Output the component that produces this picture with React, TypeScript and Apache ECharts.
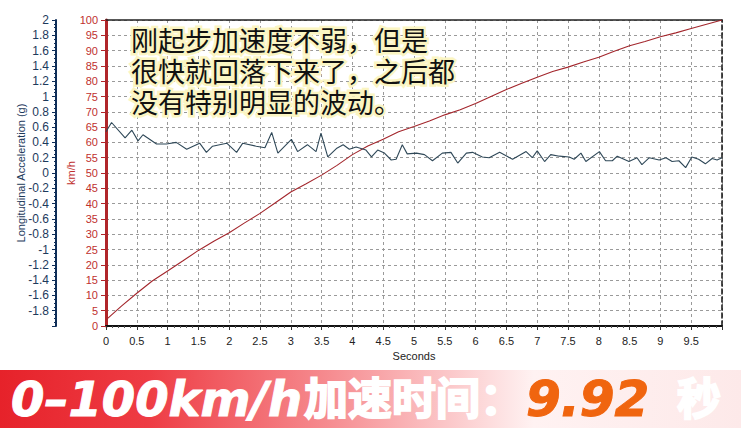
import React, { useEffect, useRef } from "react";
import * as echarts from "echarts";

// Speed curve (km/h) vs time (s)
const speedTimes = [0, 0.25, 0.5, 0.75, 1.0, 1.25, 1.5, 1.75, 2.0, 2.25, 2.5, 2.75, 3.0, 3.25, 3.5, 3.75, 4.0, 4.25, 4.5, 4.75, 5.0, 5.25, 5.5, 5.75, 6.0, 6.25, 6.5, 6.75, 7.0, 7.25, 7.5, 7.75, 8.0, 8.25, 8.5, 8.75, 9.0, 9.25, 9.5, 9.75, 10.0];
const speedValues = [2, 6.5, 10.7, 14.7, 18, 21.3, 24.7, 27.7, 30.5, 33.7, 36.8, 40.3, 43.8, 46.5, 49.3, 52.5, 56, 58.8, 61, 63.5, 65.2, 67, 69, 70.7, 72.7, 75, 77.3, 79.3, 81.3, 83.2, 84.6, 86.3, 87.8, 89.8, 91.6, 93, 94.5, 95.8, 97.2, 98.6, 100];

// Longitudinal acceleration (g) vs time (s)
const accelTimes = [0.0, 0.09, 0.31, 0.42, 0.52, 0.6, 0.82, 0.98, 1.14, 1.31, 1.52, 1.63, 1.73, 1.96, 2.12, 2.22, 2.44, 2.58, 2.69, 2.79, 3.01, 3.11, 3.27, 3.41, 3.49, 3.6, 3.74, 3.85, 3.95, 4.06, 4.22, 4.31, 4.41, 4.52, 4.63, 4.71, 4.81, 4.89, 5.04, 5.17, 5.3, 5.46, 5.6, 5.71, 5.85, 5.95, 6.11, 6.22, 6.39, 6.6, 6.82, 6.92, 7.0, 7.12, 7.22, 7.36, 7.52, 7.6, 7.71, 7.79, 8.01, 8.11, 8.22, 8.3, 8.49, 8.62, 8.7, 8.82, 8.98, 9.09, 9.19, 9.3, 9.41, 9.51, 9.62, 9.73, 9.84, 9.92, 10.0];
const accelValues = [0.54, 0.66, 0.46, 0.56, 0.42, 0.5, 0.38, 0.38, 0.4, 0.31, 0.39, 0.27, 0.35, 0.39, 0.27, 0.39, 0.35, 0.33, 0.53, 0.26, 0.44, 0.28, 0.37, 0.28, 0.52, 0.21, 0.32, 0.37, 0.31, 0.34, 0.3, 0.21, 0.3, 0.26, 0.17, 0.18, 0.37, 0.25, 0.26, 0.24, 0.16, 0.26, 0.27, 0.13, 0.26, 0.27, 0.21, 0.2, 0.27, 0.18, 0.28, 0.2, 0.29, 0.15, 0.24, 0.22, 0.21, 0.18, 0.26, 0.15, 0.28, 0.16, 0.16, 0.22, 0.15, 0.2, 0.11, 0.2, 0.17, 0.2, 0.15, 0.16, 0.07, 0.21, 0.18, 0.12, 0.19, 0.17, 0.2];

const noteLines = ["刚起步加速度不弱，但是", "很快就回落下来了，之后都", "没有特别明显的波动。"];
const bannerParts = ["0–100km/h", "加速时间：", "9.92", "秒"];

const fmt1 = (v: number) => String(parseFloat(v.toFixed(1)));

export default function App() {
  const ref = useRef<HTMLDivElement>(null);
  useEffect(() => {
    if (!ref.current) return;
    const chart = echarts.init(ref.current, null, { renderer: "svg" });
    const gridColor = "#9a9a9a";
    const whiteShadow = {
      shadowColor: "rgba(0,0,0,0.65)",
      shadowBlur: 4,
      shadowOffsetX: 2,
      shadowOffsetY: 2,
    };
    const option: any = {
      animation: false,
      backgroundColor: "#ffffff",
      grid: { left: 106, right: 19, top: 20, bottom: 102, containLabel: false },
      xAxis: [
        {
          type: "value",
          min: 0,
          max: 10,
          interval: 0.5,
          position: "bottom",
          name: "Seconds",
          nameLocation: "middle",
          nameGap: 24,
          nameMoveOverlap: false,
          nameTextStyle: { color: "#222", fontSize: 11, fontFamily: "Liberation Sans" },
          axisLine: { show: true, onZero: false, lineStyle: { color: "#111", width: 2 } },
          axisTick: { show: true, length: 4, lineStyle: { color: "#333" } },
          minorTick: { show: true, splitNumber: 5, length: 2, lineStyle: { color: "#555" } },
          axisLabel: { color: "#222", fontSize: 11, fontFamily: "Liberation Sans", margin: 9, showMaxLabel: false, formatter: fmt1 },
          splitLine: { show: true, lineStyle: { color: gridColor, type: [3, 3], width: 1 } },
        },
        {
          type: "value",
          min: 0,
          max: 10,
          position: "top",
          axisLine: { show: true, onZero: false, lineStyle: { color: "#222", width: 1.5 } },
          axisTick: { show: false },
          axisLabel: { show: false },
          splitLine: { show: false },
        },
      ],
      yAxis: [
        {
          type: "value",
          min: -2,
          max: 2,
          interval: 0.2,
          position: "left",
          offset: 50,
          name: "Longitudinal Acceleration (g)",
          nameLocation: "middle",
          nameRotate: 90,
          nameGap: 30,
          nameMoveOverlap: false,
          nameTextStyle: { color: "#1d3a5c", fontSize: 11, fontFamily: "Liberation Sans" },
          axisLine: { show: true, onZero: false, lineStyle: { color: "#0f2e58", width: 2 } },
          axisTick: { show: true, length: 4, lineStyle: { color: "#0f2e58" } },
          minorTick: { show: true, splitNumber: 4, length: 2, lineStyle: { color: "#0f2e58" } },
          axisLabel: { color: "#1d3a5c", fontSize: 12, fontFamily: "Liberation Sans", margin: 7, showMinLabel: false, formatter: fmt1 },
          splitLine: { show: false },
        },
        {
          type: "value",
          min: 0,
          max: 100,
          interval: 5,
          position: "left",
          offset: 0,
          name: "km/h",
          nameLocation: "middle",
          nameRotate: 90,
          nameGap: 30,
          nameMoveOverlap: false,
          nameTextStyle: { color: "#c0302e", fontSize: 11, fontFamily: "Liberation Sans" },
          axisLine: { show: true, onZero: false, lineStyle: { color: "#b0262a", width: 3 } },
          axisTick: { show: true, length: 5, lineStyle: { color: "#b0262a" } },
          axisLabel: { color: "#c0302e", fontSize: 11, fontFamily: "Liberation Sans", margin: 8 },
          splitLine: { show: true, lineStyle: { color: gridColor, type: [3, 3], width: 1 } },
        },
        {
          type: "value",
          min: 0,
          max: 100,
          position: "right",
          axisLine: { show: true, onZero: false, lineStyle: { color: "#111", width: 1.5, type: [5, 3] } },
          axisTick: { show: false },
          axisLabel: { show: false },
          splitLine: { show: false },
        },
      ],
      series: [
        {
          type: "line",
          xAxisIndex: 0,
          yAxisIndex: 1,
          data: speedTimes.map((t, i) => [t, speedValues[i]]),
          showSymbol: false,
          lineStyle: { color: "#a3262c", width: 1.1 },
          z: 3,
        },
        {
          type: "line",
          xAxisIndex: 0,
          yAxisIndex: 0,
          data: accelTimes.map((t, i) => [t, accelValues[i]]),
          showSymbol: false,
          lineStyle: { color: "#2f4858", width: 1.1 },
          z: 3,
        },
      ],
      graphic: [
        {
          type: "text",
          z: 10,
          x: 131,
          y: 24,
          style: {
            text: noteLines.join("\n"),
            fontSize: 27,
            lineHeight: 31,
            fontFamily: "Noto Sans CJK SC",
            fill: "#111",
            stroke: "#fbf5c2",
            lineWidth: 5,
            strokeFirst: true,
            textVerticalAlign: "top",
            verticalAlign: "top",
          },
        },
        {
          type: "rect",
          z: 5,
          shape: { x: 0, y: 370, width: 741, height: 58 },
          style: {
            fill: new echarts.graphic.LinearGradient(0, 0, 1, 0, [
              { offset: 0, color: "#e6222a" },
              { offset: 0.2, color: "#ee3c44" },
              { offset: 0.45, color: "#f68e92" },
              { offset: 0.72, color: "#fff2f2" },
              { offset: 1, color: "#fde9e9" },
            ]),
          },
        },
        {
          type: "text",
          z: 11,
          x: 11,
          y: 399,
          style: {
            text: bannerParts[0],
            fontSize: 48,
            lineHeight: 50,
            fontWeight: "bold",
            fontStyle: "italic",
            fontFamily: "DejaVu Sans",
            fill: "#ffffff",
            stroke: "#ffffff",
            lineWidth: 1,
            textVerticalAlign: "middle",
            verticalAlign: "middle",
            ...whiteShadow,
          },
        },
        {
          type: "text",
          z: 11,
          x: 304,
          y: 395.5,
          style: {
            text: bannerParts[1],
            fontSize: 44,
            lineHeight: 46,
            fontWeight: "bold",
            fontFamily: "Noto Sans CJK SC",
            fill: "#ffffff",
            stroke: "#ffffff",
            lineWidth: 2,
            textVerticalAlign: "middle",
            verticalAlign: "middle",
            ...whiteShadow,
          },
        },
        {
          type: "text",
          z: 11,
          x: 526,
          y: 399,
          style: {
            text: bannerParts[2],
            fontSize: 50,
            lineHeight: 50,
            fontWeight: "bold",
            fontStyle: "italic",
            fontFamily: "DejaVu Sans",
            fill: "#f0650f",
            stroke: "#f0650f",
            lineWidth: 1,
            textVerticalAlign: "middle",
            verticalAlign: "middle",
          },
        },
        {
          type: "text",
          z: 11,
          x: 677,
          y: 395.5,
          style: {
            text: bannerParts[3],
            fontSize: 44,
            lineHeight: 46,
            fontWeight: "bold",
            fontFamily: "Noto Sans CJK SC",
            fill: "#ffffff",
            stroke: "#ffffff",
            lineWidth: 2,
            textVerticalAlign: "middle",
            verticalAlign: "middle",
            ...whiteShadow,
          },
        },
      ],
    };
    chart.setOption(option);
    return () => chart.dispose();
  }, []);
  return (
    <div
      ref={ref}
      style={{ position: "fixed", left: 0, top: 0, width: 741, height: 428, background: "#fff" }}
    />
  );
}
